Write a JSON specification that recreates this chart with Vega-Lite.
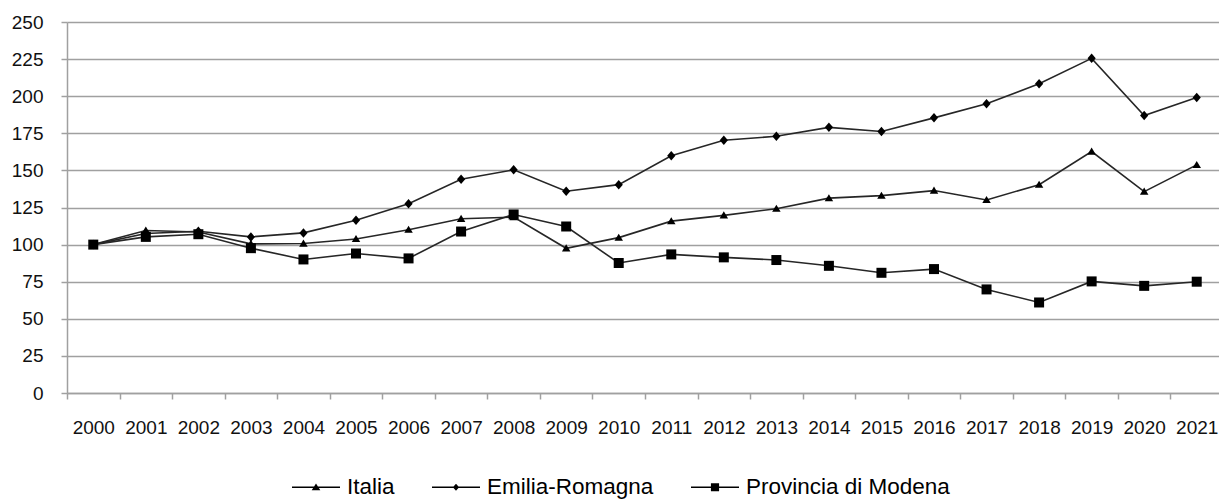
{
  "$schema": "https://vega.github.io/schema/vega-lite/v6.json",
  "width": 1156,
  "height": 371,
  "autosize": {"type": "none"},
  "padding": {"left": 67, "top": 22, "right": 0, "bottom": 108},
  "background": "white",
  "config": {"view": {"stroke": null}, "font": "Liberation Sans"},
  "data": {
    "values": [
      {"anno": "2000", "serie": "Italia", "valore": 100},
      {"anno": "2001", "serie": "Italia", "valore": 109.5},
      {"anno": "2002", "serie": "Italia", "valore": 108.5},
      {"anno": "2003", "serie": "Italia", "valore": 100.5},
      {"anno": "2004", "serie": "Italia", "valore": 100.7},
      {"anno": "2005", "serie": "Italia", "valore": 103.8},
      {"anno": "2006", "serie": "Italia", "valore": 110},
      {"anno": "2007", "serie": "Italia", "valore": 117.4},
      {"anno": "2008", "serie": "Italia", "valore": 118.5},
      {"anno": "2009", "serie": "Italia", "valore": 97.5},
      {"anno": "2010", "serie": "Italia", "valore": 104.7},
      {"anno": "2011", "serie": "Italia", "valore": 115.8},
      {"anno": "2012", "serie": "Italia", "valore": 119.7},
      {"anno": "2013", "serie": "Italia", "valore": 124.2},
      {"anno": "2014", "serie": "Italia", "valore": 131.3},
      {"anno": "2015", "serie": "Italia", "valore": 133},
      {"anno": "2016", "serie": "Italia", "valore": 136.4},
      {"anno": "2017", "serie": "Italia", "valore": 130.1},
      {"anno": "2018", "serie": "Italia", "valore": 140.4},
      {"anno": "2019", "serie": "Italia", "valore": 162.7},
      {"anno": "2020", "serie": "Italia", "valore": 135.7},
      {"anno": "2021", "serie": "Italia", "valore": 153.7},
      {"anno": "2000", "serie": "Emilia-Romagna", "valore": 100},
      {"anno": "2001", "serie": "Emilia-Romagna", "valore": 107.5},
      {"anno": "2002", "serie": "Emilia-Romagna", "valore": 109},
      {"anno": "2003", "serie": "Emilia-Romagna", "valore": 105.2},
      {"anno": "2004", "serie": "Emilia-Romagna", "valore": 107.9},
      {"anno": "2005", "serie": "Emilia-Romagna", "valore": 116.4},
      {"anno": "2006", "serie": "Emilia-Romagna", "valore": 127.6},
      {"anno": "2007", "serie": "Emilia-Romagna", "valore": 144},
      {"anno": "2008", "serie": "Emilia-Romagna", "valore": 150.4},
      {"anno": "2009", "serie": "Emilia-Romagna", "valore": 136},
      {"anno": "2010", "serie": "Emilia-Romagna", "valore": 140.4},
      {"anno": "2011", "serie": "Emilia-Romagna", "valore": 159.9},
      {"anno": "2012", "serie": "Emilia-Romagna", "valore": 170.3},
      {"anno": "2013", "serie": "Emilia-Romagna", "valore": 173},
      {"anno": "2014", "serie": "Emilia-Romagna", "valore": 179},
      {"anno": "2015", "serie": "Emilia-Romagna", "valore": 176.2},
      {"anno": "2016", "serie": "Emilia-Romagna", "valore": 185.4},
      {"anno": "2017", "serie": "Emilia-Romagna", "valore": 194.9},
      {"anno": "2018", "serie": "Emilia-Romagna", "valore": 208.4},
      {"anno": "2019", "serie": "Emilia-Romagna", "valore": 225.5},
      {"anno": "2020", "serie": "Emilia-Romagna", "valore": 187},
      {"anno": "2021", "serie": "Emilia-Romagna", "valore": 199.1},
      {"anno": "2000", "serie": "Provincia di Modena", "valore": 100},
      {"anno": "2001", "serie": "Provincia di Modena", "valore": 105.2},
      {"anno": "2002", "serie": "Provincia di Modena", "valore": 107},
      {"anno": "2003", "serie": "Provincia di Modena", "valore": 97.6},
      {"anno": "2004", "serie": "Provincia di Modena", "valore": 90},
      {"anno": "2005", "serie": "Provincia di Modena", "valore": 94},
      {"anno": "2006", "serie": "Provincia di Modena", "valore": 90.7},
      {"anno": "2007", "serie": "Provincia di Modena", "valore": 108.8},
      {"anno": "2008", "serie": "Provincia di Modena", "valore": 120.3},
      {"anno": "2009", "serie": "Provincia di Modena", "valore": 112.2},
      {"anno": "2010", "serie": "Provincia di Modena", "valore": 87.6},
      {"anno": "2011", "serie": "Provincia di Modena", "valore": 93.4},
      {"anno": "2012", "serie": "Provincia di Modena", "valore": 91.4},
      {"anno": "2013", "serie": "Provincia di Modena", "valore": 89.6},
      {"anno": "2014", "serie": "Provincia di Modena", "valore": 85.7},
      {"anno": "2015", "serie": "Provincia di Modena", "valore": 81},
      {"anno": "2016", "serie": "Provincia di Modena", "valore": 83.5},
      {"anno": "2017", "serie": "Provincia di Modena", "valore": 69.8},
      {"anno": "2018", "serie": "Provincia di Modena", "valore": 61},
      {"anno": "2019", "serie": "Provincia di Modena", "valore": 75.2},
      {"anno": "2020", "serie": "Provincia di Modena", "valore": 72.2},
      {"anno": "2021", "serie": "Provincia di Modena", "valore": 75}
    ]
  },
  "encoding": {
    "x": {
      "field": "anno",
      "type": "ordinal",
      "scale": {"type": "band", "paddingInner": 0, "paddingOuter": 0},
      "axis": {
        "title": null,
        "labelAngle": 0,
        "tickBand": "extent",
        "grid": false,
        "domainColor": "#a0a0a0",
        "domainWidth": 1.5,
        "tickColor": "#a0a0a0",
        "tickWidth": 1.5,
        "tickSize": 6,
        "labelFont": "Liberation Sans",
        "labelFontSize": 19,
        "labelColor": "#111111",
        "labelPadding": 19
      }
    },
    "y": {
      "field": "valore",
      "type": "quantitative",
      "scale": {"domain": [0, 250], "nice": false, "zero": true},
      "axis": {
        "title": null,
        "values": [0, 25, 50, 75, 100, 125, 150, 175, 200, 225, 250],
        "grid": true,
        "gridColor": "#a0a0a0",
        "gridWidth": 1.5,
        "domainColor": "#a0a0a0",
        "domainWidth": 1.5,
        "tickColor": "#a0a0a0",
        "tickWidth": 1.5,
        "tickSize": 6,
        "labelFont": "Liberation Sans",
        "labelFontSize": 19,
        "labelColor": "#111111",
        "labelPadding": 18
      }
    }
  },
  "resolve": {"scale": {"shape": "independent"}, "legend": {"shape": "independent"}},
  "layer": [
    {
      "mark": {"type": "line", "stroke": "#262626", "strokeWidth": 1.6},
      "encoding": {"detail": {"field": "serie", "type": "nominal"}}
    },
    {
      "mark": {"type": "point", "filled": true, "size": 100, "color": "black", "opacity": 1},
      "encoding": {
        "shape": {
          "field": "serie",
          "type": "nominal",
          "scale": {
            "domain": ["Italia", "Emilia-Romagna", "Provincia di Modena"],
            "range": ["M0,-0.8L0.85,0.62L-0.85,0.62Z", "M0,-0.95L0.82,0L0,0.95L-0.82,0Z", "M-1,-1H1V1H-1Z"]
          },
          "legend": null
        }
      }
    },
    {
      "transform": [{"filter": "false"}],
      "mark": {"type": "point", "size": 2304, "filled": true, "color": "black", "opacity": 1},
      "encoding": {
        "shape": {
          "field": "serie",
          "type": "nominal",
          "scale": {
            "domain": ["Italia", "Emilia-Romagna", "Provincia di Modena"],
            "range": [
              "M-1,-0.032H1V0.032H-1ZM0,-0.16L0.18,0.12L-0.18,0.12Z",
              "M-1,-0.032H1V0.032H-1ZM0,-0.15L0.13,0L0,0.15L-0.13,0Z",
              "M-1,-0.032H1V0.032H-1ZM-0.17,-0.17H0.17V0.17H-0.17Z"
            ]
          },
          "legend": {
            "title": null,
            "orient": "none",
            "legendX": 225,
            "legendY": 441,
            "direction": "horizontal",
            "padding": 0,
            "labelFont": "Liberation Sans",
            "labelFontSize": 22.5,
            "labelColor": "black",
            "labelLimit": 400,
            "labelOffset": 7,
            "columnPadding": 37,
            "symbolSize": 2304,
            "symbolFillColor": "black",
            "symbolStrokeColor": "black",
            "symbolStrokeWidth": 0,
            "symbolOpacity": 1
          }
        }
      }
    }
  ]
}
